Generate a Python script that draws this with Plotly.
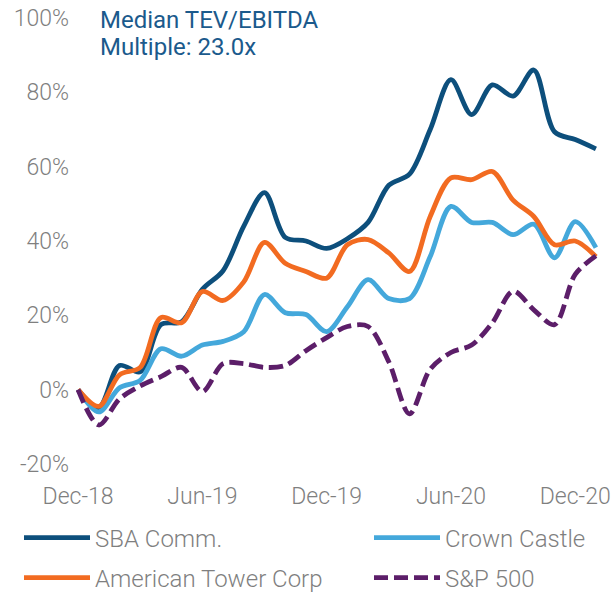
import plotly.graph_objects as go

# monthly points, Dec-18 through Jan-21 (% change since start)
months = ["Dec-18", "Jan-19", "Feb-19", "Mar-19", "Apr-19", "May-19", "Jun-19",
          "Jul-19", "Aug-19", "Sep-19", "Oct-19", "Nov-19", "Dec-19",
          "Jan-20", "Feb-20", "Mar-20", "Apr-20", "May-20", "Jun-20",
          "Jul-20", "Aug-20", "Sep-20", "Oct-20", "Nov-20", "Dec-20", "Jan-21"]
sba = [0, -4.8, 6.5, 4.8, 17.5, 18.3, 27, 32, 44, 53, 41, 40, 38,
       40.6, 45, 55, 58, 70, 83.4, 74, 82, 79, 86, 69.4, 67.3, 64.8]
crown = [0, -6, 0.5, 2.5, 11, 9, 12, 13, 15.6, 25.6, 20.7, 20.2, 15.6,
         22.3, 29.6, 24.5, 24.5, 35.8, 49.3, 45, 45, 41.7, 44.5, 35.5, 45.2, 38.2]
amt = [0, -4.5, 4, 6, 19.4, 18, 26.4, 24, 29, 39.6, 34, 31.8, 30,
       39, 40.4, 36.8, 31.8, 46.6, 57, 56.5, 58.7, 51, 46.6, 39, 40, 35.8]
spx = [0, -9.5, -2.5, 1, 3.5, 6, -0.5, 7, 7, 6, 6.5, 10.5, 14,
       17, 17, 7.5, -6.5, 5.5, 10, 12, 18, 26.5, 21.5, 17.5, 31, 36]
tick_labels = ["Dec-18", "Jun-19", "Dec-19", "Jun-20", "Dec-20"]
y_ticks = [-20, 0, 20, 40, 60, 80, 100]

W, H = 616, 593
L, R, T, B = 76, 18, 18, 129
PW, PH = W - L - R, H - T - B


def px_x(px):
    return (px - L) / PW


def px_y(py):
    return (H - B - py) / PH


# name, values, colour, dash, legend, legend position (left px, centre y px)
series = [
    ("SBA Comm.", sba, "#0d4f7c", "solid", "legend", (19, 538)),
    ("Crown Castle", crown, "#44a8db", "solid", "legend2", (369, 538)),
    ("American Tower Corp", amt, "#f26b21", "solid", "legend3", (19, 578)),
    ("S&P 500", spx, "#5c1e69", "14px,6px", "legend4", (369, 578)),
]

legend_font = dict(family="Roboto", size=24, color="#7f7f7f", weight=300)

fig = go.Figure()
legends = {}
for name, vals, color, dash, leg, (lx, ly) in series:
    fig.add_trace(go.Scatter(
        x=list(range(len(months))), y=vals, name=name, mode="lines",
        line=dict(color=color, width=4.8, dash=dash, shape="spline", smoothing=0.9),
        legend=leg, hoverinfo="skip",
    ))
    legends[leg] = dict(
        x=px_x(lx), xanchor="left", y=px_y(ly), yanchor="middle",
        itemwidth=66, font=legend_font, bgcolor="rgba(0,0,0,0)",
        itemclick=False, itemdoubleclick=False,
    )

title_font = dict(family="Roboto", size=24, color="#1b5a8c", weight=400)
fig.update_layout(
    width=W, height=H,
    margin=dict(l=L, r=R, t=T, b=B, autoexpand=False),
    paper_bgcolor="white", plot_bgcolor="white",
    font=dict(family="Roboto", size=23, color="#7f7f7f", weight=300),
    showlegend=True,
    annotations=[
        dict(text=t, xref="paper", yref="paper", x=px_x(98), y=px_y(py),
             xanchor="left", yanchor="middle", showarrow=False, font=title_font)
        for t, py in [("Median TEV/EBITDA", 20), ("Multiple: 23.0x", 47)]
    ],
    **legends,
)
fig.update_xaxes(
    range=[-0.1, 25.1], showgrid=False, zeroline=False, showline=False,
    tickmode="array", tickvals=[months.index(t) for t in tick_labels],
    ticktext=tick_labels, ticks="", ticklabelstandoff=16,
    ticklabeloverflow="allow",
)
fig.update_yaxes(
    range=[-20, 100], tickmode="array", tickvals=y_ticks,
    ticktext=[f"{v}%" for v in y_ticks], showgrid=False,
    zeroline=False, showline=False, ticks="", ticklabelstandoff=6,
    ticklabeloverflow="allow",
)

# drop the page's default body margin so the figure fills the window
fig.write_html("out.html", config={"displayModeBar": False},
               post_script="document.body.style.margin = '0';")
